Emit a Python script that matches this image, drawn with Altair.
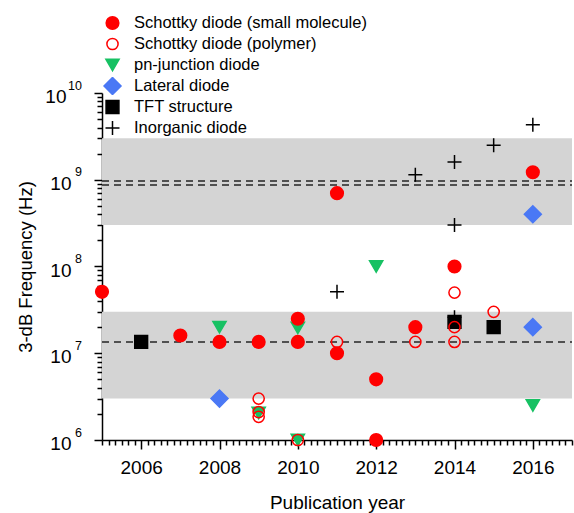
import altair as alt
import numpy as np
import pandas as pd

FONT = "Liberation Sans"

# Device categories, in legend order
TYPES = [
    "Schottky diode (small molecule)",
    "Schottky diode (polymer)",
    "pn-junction diode",
    "Lateral diode",
    "TFT structure",
    "Inorganic diode",
]

# Reported 3-dB frequencies (Hz) by publication year
sm_year = [2005, 2007, 2008, 2009, 2010, 2010, 2011, 2011, 2012, 2012, 2013, 2014, 2016]
sm_freq = [5.1e7, 1.6e7, 1.35e7, 1.35e7, 1.35e7, 2.5e7, 7e8, 1e7, 5e6, 1e6, 2e7, 1e8, 1.22e9]

poly_year = [2009, 2009, 2009, 2010, 2011, 2013, 2014, 2014, 2014, 2015]
poly_freq = [3e6, 2.1e6, 1.85e6, 1e6, 1.35e7, 1.35e7, 5e7, 2e7, 1.35e7, 3e7]

pn_year = [2008, 2009, 2010, 2010, 2012, 2016]
pn_freq = [2e7, 2.05e6, 1.96e7, 1e6, 1e8, 2.5e6]

lat_year = [2008, 2016, 2016]
lat_freq = [3e6, 4e8, 2e7]

tft_year = [2006, 2014, 2015]
tft_freq = [1.35e7, 2.3e7, 2e7]

inorg_year = [2011, 2013, 2014, 2014, 2014, 2015, 2016]
inorg_freq = [5.1e7, 1.14e9, 1.6e9, 3e8, 2.6e7, 2.5e9, 4.3e9]

# Shaded frequency ranges and reference levels
band_lo = [3e6, 3e8]
band_hi = [3e7, 3e9]
ref_levels = [1.35e7, 8.7e8, 9.7e8]

# Decades labelled on the frequency axis
decades = [6, 7, 8, 9, 10]

# Rows in drawing order (later rows are painted on top)
series = [
    (TYPES[2], pn_year, pn_freq),
    (TYPES[3], lat_year, lat_freq),
    (TYPES[5], inorg_year, inorg_freq),
    (TYPES[4], tft_year, tft_freq),
    (TYPES[0], sm_year, sm_freq),
    (TYPES[1], poly_year, poly_freq),
]
points = pd.DataFrame(
    [{"type": t, "year": y, "freq": f} for t, ys, fs in series for y, f in zip(ys, fs)]
)
bands = pd.DataFrame({"lo": band_lo, "hi": band_hi})
refs = pd.DataFrame({"level": ref_levels})
decade_labels = pd.DataFrame(
    {"val": [10.0 ** e for e in decades], "exp": [str(e) for e in decades], "e": decades}
)

PLUS = "M-1,0H1M0,-1V1"
shapes = ["circle", "circle", "triangle-down", "diamond", "square", PLUS]
fills = ["#ff0000", "transparent", "#17c163", "#4a78f5", "#000000", "transparent"]
strokes = ["#ff0000", "#ff0000", "#17c163", "#4a78f5", "#000000", "#000000"]
sizes = [160, 125, 175, 290, 165, 196]

# Axis tick positions: labelled majors plus minor ticks
x_ticks = [float(v) for v in np.round(np.arange(2005, 2017 + 1e-9, 1 / 6), 6)]
y_ticks = [float(m * 10 ** e) for e in range(6, 10) for m in range(1, 10)] + [1e10]

X_MAJOR = "abs(datum.value - round(datum.value)) < 0.01 && round(datum.value) % 2 == 0"
Y_MAJOR = "abs(log(datum.value) / LN10 - round(log(datum.value) / LN10)) < 0.001"

x_axis = alt.Axis(
    values=x_ticks,
    labelExpr=f"({X_MAJOR}) ? format(round(datum.value), 'd') : ''",
    labelOverlap=False,
    tickSize={"condition": {"test": X_MAJOR, "value": 9}, "value": 5},
    tickWidth=1.5,
    tickColor="black",
    domainColor="black",
    domainWidth=1.5,
    grid=False,
    labelFont=FONT,
    labelFontSize=19,
    labelColor="black",
    labelPadding=9,
    title="Publication year",
    titleFont=FONT,
    titleFontSize=19,
    titleFontWeight="normal",
    titleColor="black",
    titlePadding=16,
)
# Decade labels are drawn as text layers so the exponent can be raised
y_axis = alt.Axis(
    values=y_ticks,
    labels=False,
    tickSize={"condition": {"test": Y_MAJOR, "value": 8}, "value": 5},
    tickWidth=1.5,
    tickColor="black",
    domainColor="black",
    domainWidth=1.5,
    grid=False,
    title="3-dB Frequency (Hz)",
    titleFont=FONT,
    titleFontSize=18.5,
    titleFontWeight="normal",
    titleColor="black",
    titlePadding=58,
)

x_scale = alt.Scale(domain=[2005, 2017], nice=False, zero=False)
y_scale = alt.Scale(type="log", domain=[1e6, 1e10], nice=False)

legend = alt.Legend(
    orient="none",
    legendX=1,
    legendY=-79,
    title=None,
    padding=0,
    labelFont=FONT,
    labelFontSize=16.5,
    labelColor="black",
    labelOffset=12,
    labelLimit=400,
    clipHeight=18,
    rowPadding=3,
    symbolStrokeWidth=1.5,
)

band_layer = alt.Chart(bands).mark_rect(color="#d4d4d4").encode(
    x=alt.value(0),
    x2=alt.value("width"),
    y=alt.Y("lo:Q", scale=y_scale, axis=y_axis),
    y2="hi:Q",
)

ref_layer = alt.Chart(refs).mark_rule(
    color="#505050", strokeWidth=2, strokeDash=[7, 5]
).encode(
    x=alt.value(0),
    x2=alt.value("width"),
    y=alt.Y("level:Q", scale=y_scale, axis=y_axis),
)

point_layer = alt.Chart(points).mark_point(opacity=1, strokeWidth=1.5).encode(
    x=alt.X("year:Q", scale=x_scale, axis=x_axis),
    y=alt.Y("freq:Q", scale=y_scale, axis=y_axis),
    shape=alt.Shape("type:N", scale=alt.Scale(domain=TYPES, range=shapes), legend=legend),
    fill=alt.Fill("type:N", scale=alt.Scale(domain=TYPES, range=fills), legend=legend),
    stroke=alt.Stroke("type:N", scale=alt.Scale(domain=TYPES, range=strokes), legend=legend),
    size=alt.Size(
        "type:N", scale=alt.Scale(type="ordinal", domain=TYPES, range=sizes), legend=legend
    ),
)

# "10" base of each decade label, right-aligned left of the axis
label_base = alt.Chart(decade_labels)
text_style = dict(font=FONT, color="black", align="right", baseline="alphabetic")
base_single = label_base.transform_filter("datum.e < 10").mark_text(
    fontSize=19, dy=10, **text_style
).encode(
    x=alt.value(-30.5),
    y=alt.Y("val:Q", scale=y_scale, axis=y_axis),
    text=alt.value("10"),
)
base_double = label_base.transform_filter("datum.e >= 10").mark_text(
    fontSize=19, dy=10, **text_style
).encode(
    x=alt.value(-35.5),
    y=alt.Y("val:Q", scale=y_scale, axis=y_axis),
    text=alt.value("10"),
)
# Raised exponent
exponent = label_base.mark_text(fontSize=12.5, dy=-3.5, **text_style).encode(
    x=alt.value(-20),
    y=alt.Y("val:Q", scale=y_scale, axis=y_axis),
    text="exp:N",
)

chart = (
    alt.layer(band_layer, ref_layer, point_layer, base_single, base_double, exponent)
    .properties(
        width=470,
        height=347,
        autosize=alt.AutoSizeParams(type="none"),
        padding={"left": 102, "top": 93, "right": 2, "bottom": 73},
        background="white",
    )
    .configure_view(stroke=None)
)

chart.save("out.html", embed_options={"renderer": "svg", "actions": False})
